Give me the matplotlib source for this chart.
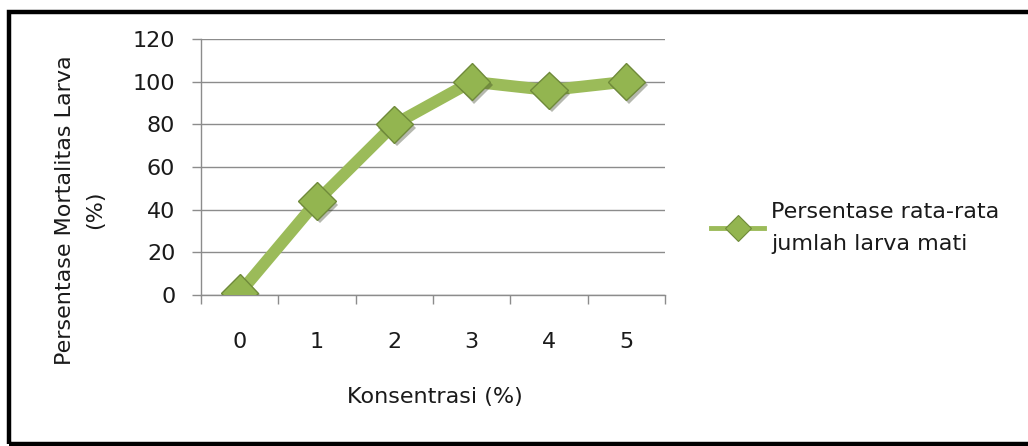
import matplotlib
matplotlib.use("Agg")
import matplotlib.pyplot as plt
from matplotlib.lines import Line2D
from matplotlib.patches import Rectangle
import matplotlib.patheffects as pe

categories = ["0", "1", "2", "3", "4", "5"]
values = [1, 44, 80, 100, 96, 100]
yticks = [0, 20, 40, 60, 80, 100, 120]
series_label = "Persentase rata-rata\njumlah larva mati"
xlabel = "Konsentrasi (%)"
ylabel = "Persentase Mortalitas Larva\n(%)"

W, H = 1028, 446
fig = plt.figure(figsize=(W / 100, H / 100), dpi=100)
plt.rcParams['font.family'] = ['DejaVu Sans']
FS = 16
TXT = "#1a1a1a"

left, right, top, bottom = 201, 665, 39, 295
ax = fig.add_axes([left / W, 1 - bottom / H, (right - left) / W, (bottom - top) / H])

green = "#9BBB59"
dark = "#6F8A3A"
grid_c = "#8C8C8C"

x = list(range(len(categories)))
ax.plot(x, values, color=green, lw=8.5, solid_capstyle="butt", zorder=3)
ax.plot(x, values, ls="none", marker="D", ms=19, mfc="#93B550", mec=dark, mew=1.0, zorder=4,
        path_effects=[pe.SimplePatchShadow(offset=(2, -2.5), alpha=0.35), pe.Normal()])

ax.set_xlim(-0.5, len(categories) - 0.5)
ax.set_ylim(0, 120)
ax.set_yticks(yticks)
ax.set_yticklabels([str(v) for v in yticks])
ax.yaxis.grid(True, color=grid_c, lw=1)
ax.set_axisbelow(True)

ax.set_xticks([i - 0.5 for i in range(len(categories) + 1)], minor=False)
ax.set_xticklabels([""] * (len(categories) + 1))
ax.set_xticks(x, minor=True)
ax.set_xticklabels(categories, minor=True)
ax.tick_params(axis="x", which="major", length=6.5, color=grid_c, width=1, direction="out")
ax.tick_params(axis="x", which="minor", length=0, pad=27, labelsize=FS, colors=TXT)
ax.tick_params(axis="y", length=6.5, color=grid_c, width=1, pad=12, labelsize=FS, labelcolor=TXT)

for s in ["top", "right"]:
    ax.spines[s].set_visible(False)
for s in ["left", "bottom"]:
    ax.spines[s].set_color(grid_c)
    ax.spines[s].set_linewidth(1)

fig.text(435 / W, 1 - 397 / H, xlabel, ha="center", va="center", fontsize=FS, color=TXT)
fig.text(80 / W, 1 - 210 / H, ylabel, ha="center", va="center", rotation=90,
         fontsize=FS, color=TXT, linespacing=1.6, multialignment="center")

handle = Line2D([], [], color=green, lw=3.5, marker="D", ms=13, mfc="#93B550", mec=dark, mew=0.8)
fig.legend([handle], [series_label], loc="center left", bbox_to_anchor=(700 / W, 1 - 228 / H),
           frameon=False, fontsize=FS, handlelength=2.4, handletextpad=0.3,
           labelspacing=0.2, borderpad=0)
for t in fig.legends[0].get_texts():
    t.set_linespacing(1.7)
    t.set_color(TXT)

fig.patches.append(Rectangle((9 / W, 2 / H), 1.2, (434 - 2) / H, transform=fig.transFigure,
                             fill=False, ec="black", lw=3.2, zorder=10))

fig.savefig("out.png", dpi=100, facecolor="white")
